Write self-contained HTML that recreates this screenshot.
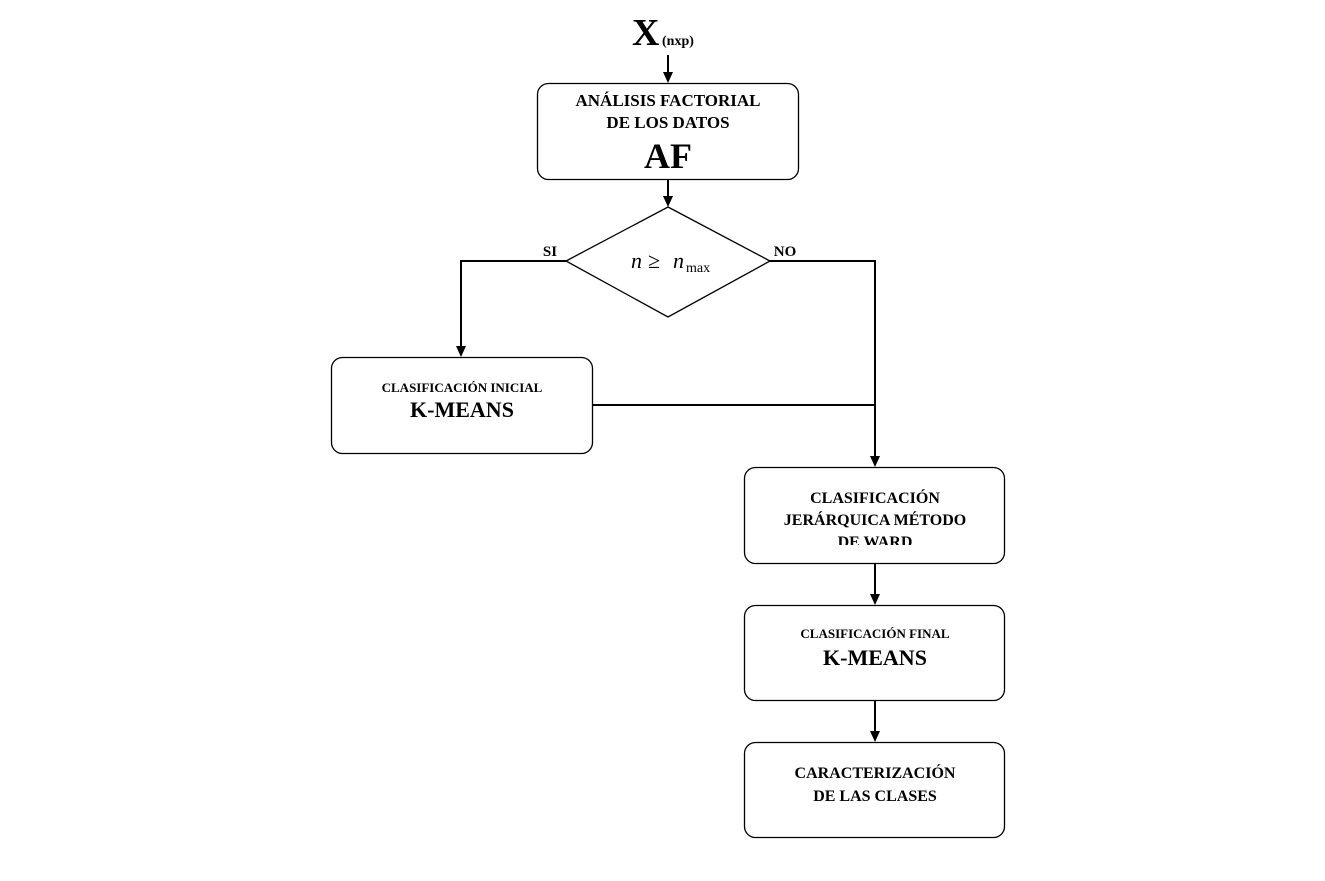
<!DOCTYPE html>
<html><head><meta charset="utf-8"><style>
html,body{margin:0;padding:0;background:#fff;}
svg{display:block;}
text{font-family:"Liberation Serif",serif;font-weight:bold;fill:#000;}
</style></head><body>
<svg width="1325" height="881" viewBox="0 0 1325 881" xmlns="http://www.w3.org/2000/svg">
<defs>
<marker id="a" markerWidth="10" markerHeight="12" refX="5" refY="11" orient="auto" markerUnits="userSpaceOnUse">
<path d="M0,0 L10,0 L5,11 Z" fill="#000" transform="rotate(-90 5 5.5) rotate(90 5 5.5)"/>
</marker>
<clipPath id="wc"><rect x="744" y="467" width="261" height="78"/></clipPath>
</defs>
<g fill="none" stroke="#000" stroke-width="1.3">
<rect x="537.5" y="83.5" width="261" height="96" rx="11"/>
<polygon points="668,207 770,261 668,317 566,261"/>
<rect x="331.5" y="357.5" width="261" height="96" rx="11"/>
<rect x="744.5" y="467.5" width="260" height="96" rx="11"/>
<rect x="744.5" y="605.5" width="260" height="95" rx="11"/>
<rect x="744.5" y="742.5" width="260" height="95" rx="11"/>
</g>
<g fill="none" stroke="#000" stroke-width="2">
<line x1="668" y1="55" x2="668" y2="72"/>
<line x1="668" y1="179" x2="668" y2="196"/>
<polyline points="566,261 461,261 461,346"/>
<polyline points="770,261 875,261 875,456"/>
<line x1="592" y1="405" x2="875" y2="405"/>
<line x1="875" y1="563" x2="875" y2="594"/>
<line x1="875" y1="700" x2="875" y2="731"/>
</g>
<g fill="#000">
<path d="M663,72 L673,72 L668,83 Z"/>
<path d="M663,196 L673,196 L668,207 Z"/>
<path d="M456,346 L466,346 L461,357 Z"/>
<path d="M870,456 L880,456 L875,467 Z"/>
<path d="M870,594 L880,594 L875,605 Z"/>
<path d="M870,731 L880,731 L875,742 Z"/>
</g>
<text x="632" y="45" font-size="38">X</text>
<text x="662" y="45" font-size="14">(nxp)</text>
<text x="668" y="106" font-size="17" text-anchor="middle">ANÁLISIS FACTORIAL</text>
<text x="668" y="128" font-size="17" text-anchor="middle">DE LOS DATOS</text>
<text x="668" y="168" font-size="36" text-anchor="middle">AF</text>
<text x="550" y="256" font-size="15" text-anchor="middle">SI</text>
<text x="785" y="256" font-size="15" text-anchor="middle">NO</text>
<text x="631" y="268" font-size="22" style="font-weight:normal;font-style:italic">n</text>
<text x="648" y="268" font-size="22" style="font-weight:normal">≥</text>
<text x="673" y="268" font-size="22" style="font-weight:normal;font-style:italic">n</text>
<text x="686" y="272" font-size="14" style="font-weight:normal">max</text>
<text x="462" y="392" font-size="13" text-anchor="middle">CLASIFICACIÓN INICIAL</text>
<text x="462" y="417" font-size="22" text-anchor="middle">K-MEANS</text>
<g clip-path="url(#wc)">
<text x="875" y="503" font-size="16" text-anchor="middle">CLASIFICACIÓN</text>
<text x="875" y="525" font-size="16" text-anchor="middle">JERÁRQUICA MÉTODO</text>
<text x="875" y="547" font-size="16" text-anchor="middle">DE WARD</text>
</g>
<text x="875" y="638" font-size="13" text-anchor="middle">CLASIFICACIÓN FINAL</text>
<text x="875" y="665" font-size="22" text-anchor="middle">K-MEANS</text>
<text x="875" y="778" font-size="16" text-anchor="middle">CARACTERIZACIÓN</text>
<text x="875" y="801" font-size="16" text-anchor="middle">DE LAS CLASES</text>
</svg>
</body></html>
